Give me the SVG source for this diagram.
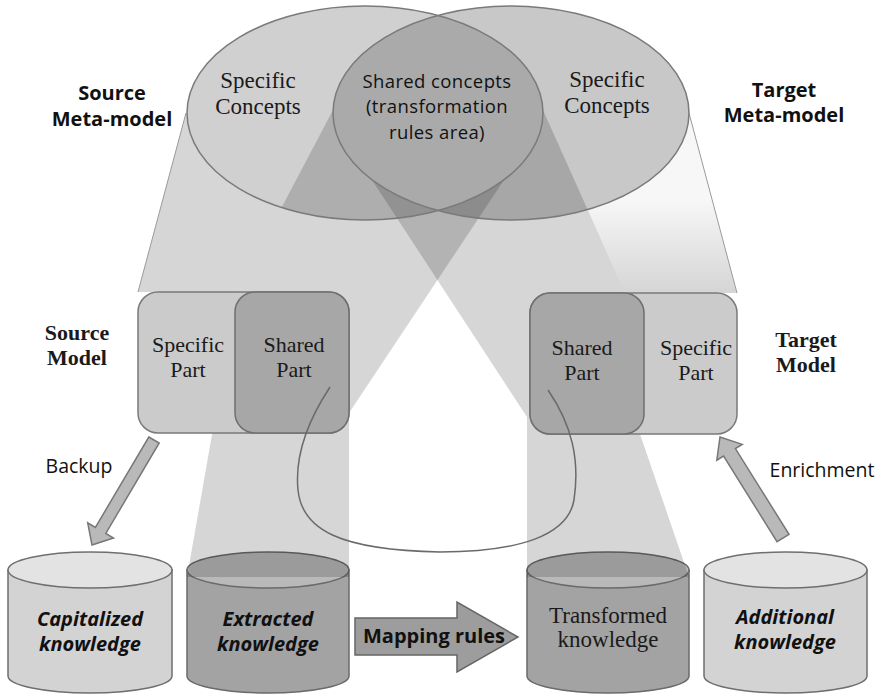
<svg xmlns="http://www.w3.org/2000/svg" width="884" height="696" viewBox="0 0 884 696">
  <defs>
    <style>
      .sans { font-family: "Open Sans", "Liberation Sans", sans-serif; fill: #111; }
      .serif { font-family: "Liberation Serif", "Times New Roman", serif; fill: #1a1a1a; }
      .bold { font-weight: bold; }
      .bi { font-weight: bold; font-style: italic; }
      .outline { fill: none; stroke: #7a7a7a; stroke-width: 1.5; }
      .beam { fill: #000; fill-opacity: 0.16; stroke: none; }
      .beam-edge { fill: none; stroke: #9a9a9a; stroke-width: 1; }
      .box-spec { fill: #cbcbcb; stroke: #7a7a7a; stroke-width: 1.5; }
      .box-shared { fill: #a7a7a7; stroke: #6f6f6f; stroke-width: 1.5; }
      .cyl-light { fill: #d3d3d3; stroke: #6f6f6f; stroke-width: 1.5; }
      .cyl-light-top { fill: #e3e3e3; stroke: #6f6f6f; stroke-width: 1.5; }
      .cyl-dark { fill: #a3a3a3; stroke: #6a6a6a; stroke-width: 1.5; }
      .cyl-dark-top { fill: #b9b9b9; stroke: #6a6a6a; stroke-width: 1.5; }
      .block-arrow { fill: #b9b9b9; stroke: #777; stroke-width: 1.5; stroke-linejoin: miter; }
      .flow { fill: none; stroke: #6a6a6a; stroke-width: 1.5; }
    </style>
    <linearGradient id="fadeBeam" x1="0" y1="200" x2="0" y2="293" gradientUnits="userSpaceOnUse">
      <stop offset="0" stop-color="#f7f7f7"/>
      <stop offset="1" stop-color="#d5d5d5"/>
    </linearGradient>
    <clipPath id="leftMeta">
      <ellipse cx="365" cy="113" rx="178" ry="107"/>
    </clipPath>
  </defs>

  <rect x="0" y="0" width="884" height="696" fill="#fff"/>

  <!-- projection beams lying under the meta-model ellipses -->
  <g id="beams-back">
    <polygon points="689,113 543,110 625,293 737,293" fill="url(#fadeBeam)"/>
    <line x1="689" y1="113" x2="737" y2="293" class="beam-edge"/>
    <polygon points="186,113 333,110 237,292 138,292" fill="#d6d6d6"/>
    <line x1="186" y1="113" x2="138" y2="292" class="beam-edge"/>
  </g>

  <!-- meta-models -->
  <g id="source-metamodel">
    <ellipse cx="365" cy="113" rx="178" ry="107" fill="#d0d0d0"/>
  </g>
  <g id="target-metamodel">
    <ellipse cx="511" cy="113" rx="178" ry="107" fill="#c8c8c8"/>
  </g>

  <!-- knowledge bases -->
  <g id="capitalized-knowledge">
    <path d="M8,570 L8,676 A82,17 0 0 0 172,676 L172,570 Z" class="cyl-light"/>
    <ellipse cx="90" cy="570" rx="82" ry="18" class="cyl-light-top"/>
    <text x="90" y="626" text-anchor="middle" class="sans bi" font-size="20">Capitalized</text>
    <text x="90" y="651" text-anchor="middle" class="sans bi" font-size="20">knowledge</text>
  </g>
  <g id="extracted-knowledge">
    <path d="M187,570 L187,676 A81,17 0 0 0 349,676 L349,570 Z" class="cyl-dark"/>
    <ellipse cx="268" cy="570" rx="81" ry="18" class="cyl-dark-top"/>
    <text x="268" y="626" text-anchor="middle" class="sans bi" font-size="20">Extracted</text>
    <text x="268" y="651" text-anchor="middle" class="sans bi" font-size="20">knowledge</text>
  </g>
  <g id="transformed-knowledge">
    <path d="M527,570 L527,676 A81,17 0 0 0 689,676 L689,570 Z" class="cyl-dark"/>
    <ellipse cx="608" cy="570" rx="81" ry="18" class="cyl-dark-top"/>
    <text x="608" y="623" text-anchor="middle" class="serif" font-size="23">Transformed</text>
    <text x="608" y="647" text-anchor="middle" class="serif" font-size="23">knowledge</text>
  </g>
  <g id="additional-knowledge">
    <path d="M704,570 L704,676 A81.5,17 0 0 0 867,676 L867,570 Z" class="cyl-light"/>
    <ellipse cx="785.5" cy="570" rx="81.5" ry="18" class="cyl-light-top"/>
    <text x="785" y="624" text-anchor="middle" class="sans bi" font-size="20">Additional</text>
    <text x="785" y="649" text-anchor="middle" class="sans bi" font-size="20">knowledge</text>
  </g>

  <!-- projection beams of the shared concepts -->
  <g id="beams-front">
    <polygon points="333,110 504,180 349,413 349,577 187,577 237,292" class="beam"/>
    <polygon points="543,110 625,293 640,434 689,577 527,577 527,417 372,180" class="beam"/>
  </g>

  <!-- shared concepts area and meta-model outlines -->
  <g id="shared-concepts">
    <ellipse cx="511" cy="113" rx="178" ry="107" fill="#aaaaaa" clip-path="url(#leftMeta)"/>
    <ellipse cx="365" cy="113" rx="178" ry="107" class="outline"/>
    <ellipse cx="511" cy="113" rx="178" ry="107" class="outline"/>
    <text x="437" y="87.5" text-anchor="middle" class="sans" font-size="18.5" letter-spacing="0.4">Shared concepts</text>
    <text x="437" y="113" text-anchor="middle" class="sans" font-size="18.5" letter-spacing="0.4">(transformation</text>
    <text x="437" y="138.5" text-anchor="middle" class="sans" font-size="18.5" letter-spacing="0.4">rules area)</text>
  </g>
  <g id="source-specific-concepts">
    <text x="258" y="88" text-anchor="middle" class="serif" font-size="23">Specific</text>
    <text x="258" y="114" text-anchor="middle" class="serif" font-size="23">Concepts</text>
  </g>
  <g id="target-specific-concepts">
    <text x="607" y="87" text-anchor="middle" class="serif" font-size="23">Specific</text>
    <text x="607" y="113" text-anchor="middle" class="serif" font-size="23">Concepts</text>
  </g>

  <!-- models -->
  <g id="source-model">
    <rect x="138" y="292" width="211" height="141" rx="20" class="box-spec"/>
    <rect x="235" y="292" width="114" height="141" rx="20" class="box-shared"/>
    <text x="188" y="352" text-anchor="middle" class="serif" font-size="22">Specific</text>
    <text x="188" y="377" text-anchor="middle" class="serif" font-size="22">Part</text>
    <text x="294" y="352" text-anchor="middle" class="serif" font-size="22">Shared</text>
    <text x="294" y="377" text-anchor="middle" class="serif" font-size="22">Part</text>
  </g>
  <g id="target-model">
    <rect x="530" y="293" width="207" height="141" rx="20" class="box-spec"/>
    <rect x="530" y="293" width="114" height="141" rx="20" class="box-shared"/>
    <text x="582" y="355" text-anchor="middle" class="serif" font-size="22">Shared</text>
    <text x="582" y="380" text-anchor="middle" class="serif" font-size="22">Part</text>
    <text x="696" y="355" text-anchor="middle" class="serif" font-size="22">Specific</text>
    <text x="696" y="380" text-anchor="middle" class="serif" font-size="22">Part</text>
  </g>

  <!-- side labels -->
  <g id="labels">
    <text x="112" y="100" text-anchor="middle" class="sans bold" font-size="20">Source</text>
    <text x="112" y="126" text-anchor="middle" class="sans bold" font-size="20">Meta-model</text>
    <text x="784" y="97" text-anchor="middle" class="sans bold" font-size="20">Target</text>
    <text x="784" y="122" text-anchor="middle" class="sans bold" font-size="20">Meta-model</text>
    <text x="77" y="340" text-anchor="middle" class="serif bold" font-size="22">Source</text>
    <text x="77" y="365" text-anchor="middle" class="serif bold" font-size="22">Model</text>
    <text x="806" y="347" text-anchor="middle" class="serif bold" font-size="22">Target</text>
    <text x="806" y="372" text-anchor="middle" class="serif bold" font-size="22">Model</text>
  </g>

  <!-- connectors -->
  <g id="connectors">
    <path d="M330,387 C305,425 295,460 298,490 C302,530 340,550 440,552 C520,552 568,535 574,500 C580,460 572,425 548,390" class="flow"/>
    <polygon points="148.8,437 159.2,443 105.8,533.4 113.5,538 92,545 87.7,522.8 95.4,527.4" class="block-arrow"/>
    <text x="79" y="473" text-anchor="middle" class="sans" font-size="19.5">Backup</text>
    <polygon points="789,534.3 777,541.7 723.6,456 716.8,460.2 720,437 742.2,444.4 735.4,448.6" class="block-arrow"/>
    <text x="822" y="477" text-anchor="middle" class="sans" font-size="19.5">Enrichment</text>
    <polygon points="355,618 457,618 457,602 518,637 457,672 457,655 355,655" fill="#9d9d9d" stroke="#666" stroke-width="1.5"/>
    <text x="434" y="643" text-anchor="middle" class="sans bold" font-size="20">Mapping rules</text>
  </g>
</svg>
